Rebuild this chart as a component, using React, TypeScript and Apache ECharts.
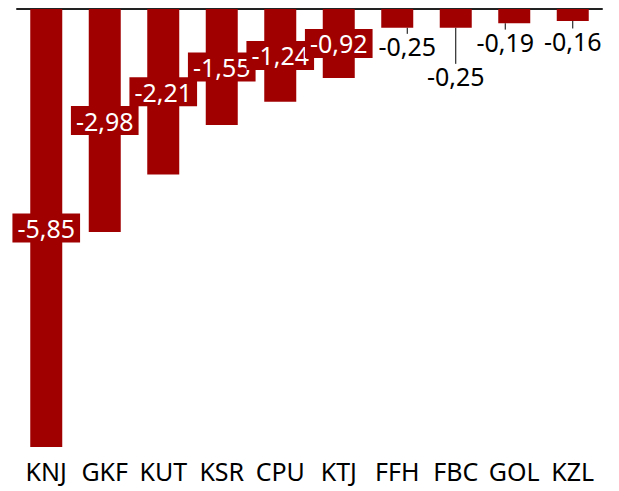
import React, { useEffect, useRef } from "react";
import * as echarts from "echarts";

const categories = ["KNJ", "GKF", "KUT", "KSR", "CPU", "KTJ", "FFH", "FBC", "GOL", "KZL"];
const values = [-5.85, -2.98, -2.21, -1.55, -1.24, -0.92, -0.25, -0.25, -0.19, -0.16];

// labels moved outside the bar: [dataIndex, dx, dy]
const outsideLabels: Array<[number, number, number]> = [
  [6, 10, 28],
  [7, 0, 58],
  [8, -9, 26],
  [9, 0, 26],
];

const BAR = "#a00000";
const FONT = "'Noto Sans', 'Open Sans', sans-serif";

const fmt = (v: number) => v.toFixed(2).replace(".", ",");

export default function App() {
  const ref = useRef<HTMLDivElement>(null);
  useEffect(() => {
    if (!ref.current) return;
    const chart = echarts.init(ref.current, null, { renderer: "svg" });
    const outsideIdx = new Set(outsideLabels.map((o) => o[0]));
    chart.setOption({
      animation: false,
      grid: { left: 9, right: 17, top: 1, bottom: 44, containLabel: false },
      xAxis: [
        {
          type: "category",
          data: categories,
          position: "bottom",
          axisLine: { show: false, onZero: false },
          axisTick: { show: false },
          axisLabel: {
            color: "#000",
            fontSize: 25,
            fontFamily: FONT,
            margin: 11,
            interval: 0,
          },
        },
        {
          type: "category",
          data: categories,
          position: "top",
          axisLine: { show: true, onZero: false, lineStyle: { color: "#222", width: 2 } },
          axisTick: { show: false },
          axisLabel: { show: false },
        },
      ],
      yAxis: {
        type: "value",
        min: -5.85,
        max: 0,
        show: false,
        splitLine: { show: false },
      },
      series: [
        {
          type: "bar",
          xAxisIndex: 0,
          barWidth: 32,
          itemStyle: { color: BAR },
          data: values.map((v, i) => {
            const outside = outsideIdx.has(i);
            return {
              value: v,
              label: outside
                ? { color: "#000", backgroundColor: "transparent", padding: 0 }
                : undefined,
            };
          }),
          label: {
            show: true,
            position: "inside",
            formatter: (p: any) => fmt(p.value),
            color: "#fff",
            backgroundColor: BAR,
            padding: [2, 5, 2, 5],
            fontSize: 25,
            fontFamily: FONT,
          },
          labelLine: { show: true, lineStyle: { color: "#000", width: 1 } },
          labelLayout: (params: any) => {
            const o = outsideLabels.find((x) => x[0] === params.dataIndex);
            if (!o) return {};
            return { dx: o[1], dy: o[2] };
          },
        },
      ],
    });
    return () => chart.dispose();
  }, []);
  return <div ref={ref} style={{ width: 611, height: 483 }} />;
}
